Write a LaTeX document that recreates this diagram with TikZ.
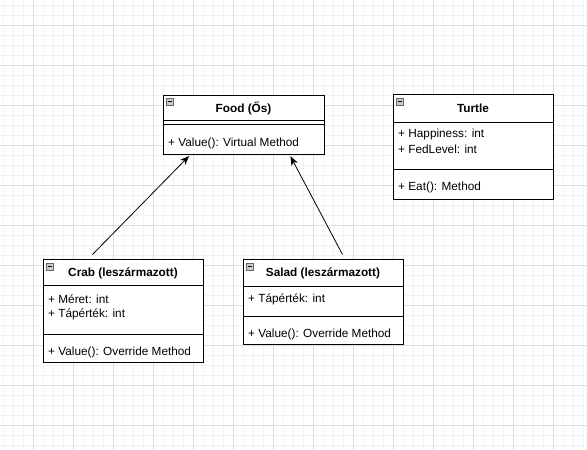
\documentclass[tikz,border=0pt]{standalone}
\usepackage{fontspec}
\setmainfont{Liberation Sans}
\usetikzlibrary{arrows.meta}
\begin{document}
\begin{tikzpicture}[>={Stealth[length=9pt, width=7pt, inset=2.5pt]}, x=1pt, y=-1pt, font=\fontsize{11.8}{14}\selectfont,
  classbox/.style={draw, line width=1pt, fill=white, inner sep=0pt},
  classtitle/.style={font=\fontsize{11.8}{14}\selectfont\bfseries, inner sep=0pt},
  member/.style={anchor=west, inner sep=0pt},
  icon/.style={draw=black!60, fill=black!20, line width=0.6pt, minimum size=7pt, inner sep=0pt,
    path picture={\draw[black, line width=1pt] ([xshift=1.2pt]path picture bounding box.west) -- ([xshift=-1.2pt]path picture bounding box.east);}}]
\useasboundingbox (0,0) rectangle (587,450);
\fill[white] (0,0) rectangle (587,450);
\draw[shift={(3,5)}, black!5, line width=1pt, step=10pt] (-3,-5) grid (584,445);
\draw[shift={(33,25)}, black!13, line width=1pt, step=40pt] (-33,-25) grid (554,425);

\node[classbox, minimum width=161, minimum height=59] (food) at (243.5,124.5) {};
\node[classtitle] (foodtitle) at (243.5,108.5) {Food (Ős)};
\draw[line width=1pt] (163,120)--(324,120);
\draw[line width=1pt] (163,124)--(324,124);
\node[member] (foodvalue) at (168,143) {+ Value(): Virtual Method};
\node[icon] (foodicon) at (170,101.5) {};

\node[classbox, minimum width=160, minimum height=105] (turtle) at (473,146.5) {};
\node[classtitle] (turtletitle) at (473,108.5) {Turtle};
\draw[line width=1pt] (393,122)--(553,122);
\node[member] (turtlehappy) at (398,134) {+ Happiness: int};
\node[member] (turtlefed) at (398,149) {+ FedLevel: int};
\draw[line width=1pt] (393,169)--(553,169);
\node[member] (turtleeat) at (398,187) {+ Eat(): Method};
\node[icon] (turtleicon) at (400,101.5) {};

\node[classbox, minimum width=160, minimum height=103] (crab) at (123,310.5) {};
\node[classtitle] (crabtitle) at (123,273.5) {Crab (leszármazott)};
\draw[line width=1pt] (43,285)--(203,285);
\node[member] (crabsize) at (48,299) {+ Méret: int};
\node[member] (crabfood) at (48,314) {+ Tápérték: int};
\draw[line width=1pt] (43,334)--(203,334);
\node[member] (crabvalue) at (48,352) {+ Value(): Override Method};
\node[icon] (crabicon) at (50,266.5) {};

\node[classbox, minimum width=160, minimum height=85] (salad) at (323,301.5) {};
\node[classtitle] (saladtitle) at (323,273.5) {Salad (leszármazott)};
\draw[line width=1pt] (243,286)--(403,286);
\node[member] (saladfood) at (248,299) {+ Tápérték: int};
\draw[line width=1pt] (243,316)--(403,316);
\node[member] (saladvalue) at (248,334) {+ Value(): Override Method};
\node[icon] (saladicon) at (250,266.5) {};

\draw[->, line width=0.8pt, shorten >=2pt] ([shift={(50,-4)}]crab.north west) -- ([xshift=28]food.south west);
\draw[->, line width=0.8pt, shorten >=2pt] ([shift={(100,-4)}]salad.north west) -- ([xshift=127]food.south west);
\end{tikzpicture}
\end{document}
